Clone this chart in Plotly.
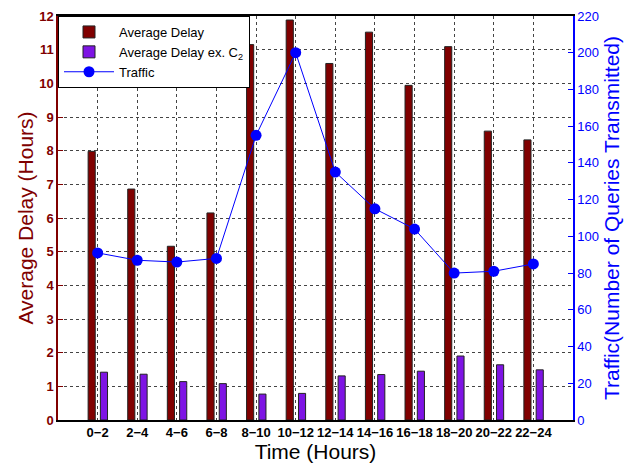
import plotly.graph_objects as go

categories = ["0\u22122", "2\u22124", "4\u22126", "6\u22128", "8\u221210", "10\u221212",
              "12\u221214", "14\u221216", "16\u221218", "18\u221220", "20\u221222", "22\u221224"]
avg_delay = [7.98, 6.86, 5.16, 6.15, 11.15, 11.88, 10.59, 11.52, 9.94, 11.09, 8.58, 8.32]
avg_delay_ex_c2 = [1.42, 1.36, 1.14, 1.08, 0.77, 0.79, 1.31, 1.35, 1.45, 1.90, 1.64, 1.49]
traffic = [91, 87, 86, 88, 155, 200, 135, 115, 104, 80, 81, 85]

xpos = list(range(1, len(categories) + 1))
DARKRED = "#800000"
PURPLE = "#7e14e4"
BLUE = "#0000ff"

fig = go.Figure()
fig.add_trace(go.Bar(x=xpos, y=avg_delay, name="Average Delay", width=0.18, offset=-0.24,
                     marker=dict(color=DARKRED, line=dict(color="#222", width=1)), yaxis="y"))
fig.add_trace(go.Bar(x=xpos, y=avg_delay_ex_c2, name="Average Delay ex. C<sub>2</sub>", width=0.18, offset=0.07,
                     marker=dict(color=PURPLE, line=dict(color="#222", width=1)), yaxis="y"))
fig.add_trace(go.Scatter(x=xpos, y=traffic, name="Traffic", mode="lines+markers",
                         line=dict(color=BLUE, width=1), marker=dict(color=BLUE, size=11),
                         yaxis="y2"))

font = "Liberation Sans, Arial, Helvetica, sans-serif"
fig.update_layout(
    width=626, height=465,
    margin=dict(l=58, r=53, t=16, b=45, autoexpand=False),
    paper_bgcolor="white", plot_bgcolor="white",
    font=dict(family=font, size=12, color="black"),
    barmode="overlay",
    showlegend=True,
    legend=dict(x=0, y=1, xanchor="left", yanchor="top", bgcolor="white",
                bordercolor="black", borderwidth=1, font=dict(size=13, color="black"),
                tracegroupgap=0, itemwidth=50),
    xaxis=dict(range=[0, 13], tickvals=xpos, ticktext=categories, automargin=False,
               tickfont=dict(size=13, color="black", family=font, weight="bold"),
               showgrid=True, griddash="dot", gridcolor="#444", gridwidth=1,
               showline=True, linecolor="black", linewidth=1.5, mirror=True,
               ticks="", zeroline=False,
               title=dict(text="Time (Hours)", font=dict(size=21, color="black"), standoff=4)),
    yaxis=dict(range=[0, 12], dtick=1, tick0=0, automargin=False,
               tickfont=dict(size=13, color=DARKRED, family=font, weight="bold"),
               showgrid=True, griddash="dot", gridcolor="#444", gridwidth=1,
               showline=True, linecolor=DARKRED, linewidth=1.5,
               ticks="inside", ticklen=5, tickcolor=DARKRED, zeroline=False,
               title=dict(text="Average Delay (Hours)", font=dict(size=21, color=DARKRED), standoff=0)),
    yaxis2=dict(range=[0, 220], dtick=20, tick0=0, overlaying="y", side="right", automargin=False,
                tickfont=dict(size=13, color=BLUE, family=font),
                showgrid=False, showline=True, linecolor=BLUE, linewidth=1.5,
                ticks="inside", ticklen=5, tickcolor=BLUE, zeroline=False,
                title=dict(text="Traffic(Number of Queries Transmitted)", font=dict(size=21, color=BLUE), standoff=6)),
)

fig.write_html("out.html")
